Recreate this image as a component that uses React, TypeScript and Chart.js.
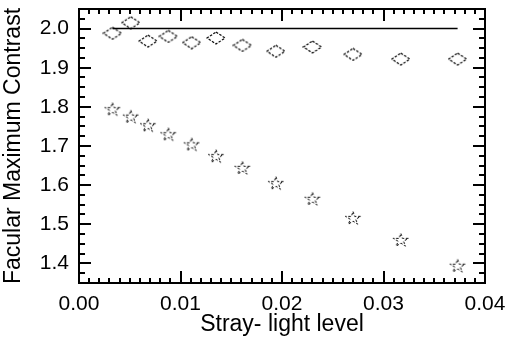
import React, { useEffect, useRef } from "react";
import { Chart, registerables } from "chart.js";

Chart.register(...registerables);

// ---- data ----
const strayLight = [0.0033, 0.0051, 0.0068, 0.0088, 0.0111, 0.0135, 0.0161, 0.0194, 0.0230, 0.0270, 0.0317, 0.0373];
const contrastDiamond = [1.988, 2.015, 1.968, 1.980, 1.964, 1.976, 1.957, 1.942, 1.953, 1.934, 1.922, 1.922];
const contrastStar = [1.794, 1.775, 1.753, 1.730, 1.704, 1.674, 1.644, 1.605, 1.565, 1.516, 1.460, 1.394];
const refLineX = [0.0033, 0.0373];
const refLineY = [2.0, 2.0];
const xTickValues = [0, 0.01, 0.02, 0.03, 0.04];
const yTickValues = [1.4, 1.5, 1.6, 1.7, 1.8, 1.9, 2.0];
const xRange = [0, 0.04];
const yRange = [1.35, 2.05];
const xMajorStep = 0.01;
const xMinorStep = 0.001;
const yMajorStep = 0.1;
const yMinorStep = 0.025;
const xTitle = "Stray- light level";
const yTitle = "Facular Maximum Contrast";

const FONT = "'Liberation Sans', Arial, Helvetica, sans-serif";

function makeDiamond(): HTMLCanvasElement {
  const c = document.createElement("canvas");
  c.width = 20;
  c.height = 14;
  const g = c.getContext("2d")!;
  g.strokeStyle = "#000";
  g.lineWidth = 1.2;
  g.setLineDash([2.5, 1.5]);
  g.beginPath();
  g.moveTo(10, 1);
  g.lineTo(19, 7);
  g.lineTo(10, 13);
  g.lineTo(1, 7);
  g.closePath();
  g.stroke();
  return c;
}

function makeStar(): HTMLCanvasElement {
  const c = document.createElement("canvas");
  c.width = 18;
  c.height = 16;
  const g = c.getContext("2d")!;
  g.strokeStyle = "#000";
  g.lineWidth = 1;
  g.setLineDash([2.5, 1.8]);
  const cx = 9, cy = 8.5;
  const rxo = 8, ryo = 7, rxi = 2.8, ryi = 2.6;
  g.beginPath();
  for (let i = 0; i < 10; i++) {
    const a = -Math.PI / 2 + (i * Math.PI) / 5;
    const rx = i % 2 === 0 ? rxo : rxi;
    const ry = i % 2 === 0 ? ryo : ryi;
    const px = cx + rx * Math.cos(a);
    const py = cy + ry * Math.sin(a);
    if (i === 0) g.moveTo(px, py);
    else g.lineTo(px, py);
  }
  g.closePath();
  g.stroke();
  return c;
}

const framePlugin = {
  id: "idlFrame",
  afterDraw(chart: any) {
    const { ctx, chartArea, scales } = chart;
    const { left, right, top, bottom } = chartArea;
    const x = scales.x;
    const y = scales.y;
    ctx.save();
    ctx.strokeStyle = "#000";
    ctx.lineWidth = 2;
    ctx.strokeRect(left, top, right - left, bottom - top);
    ctx.beginPath();
    const nx = Math.round((xRange[1] - xRange[0]) / xMinorStep);
    const perX = Math.round(xMajorStep / xMinorStep);
    for (let i = 0; i <= nx; i++) {
      const v = xRange[0] + i * xMinorStep;
      const px = Math.round(x.getPixelForValue(v));
      const len = i % perX === 0 ? 12 : 5;
      ctx.moveTo(px, bottom);
      ctx.lineTo(px, bottom - len);
      ctx.moveTo(px, top);
      ctx.lineTo(px, top + len);
    }
    const ny = Math.round((yRange[1] - yRange[0]) / yMinorStep);
    for (let i = 0; i <= ny; i++) {
      const v = yRange[0] + i * yMinorStep;
      const r = v / yMajorStep;
      const major = Math.abs(r - Math.round(r)) < 1e-6;
      const py = Math.round(y.getPixelForValue(v));
      const len = major ? 12 : 6;
      ctx.moveTo(left, py);
      ctx.lineTo(left + len, py);
      ctx.moveTo(right, py);
      ctx.lineTo(right - len, py);
    }
    ctx.stroke();
    ctx.restore();
  },
};

export default function App() {
  const ref = useRef<HTMLCanvasElement | null>(null);

  useEffect(() => {
    if (!ref.current) return;
    const diamond = makeDiamond();
    const star = makeStar();
    const chart = new Chart(ref.current, {
      type: "scatter",
      data: {
        datasets: [
          {
            type: "line",
            data: refLineX.map((v, i) => ({ x: v, y: refLineY[i] })),
            borderColor: "#000",
            borderWidth: 1.5,
            pointRadius: 0,
            showLine: true,
            fill: false,
          } as any,
          {
            data: strayLight.map((v, i) => ({ x: v, y: contrastDiamond[i] })),
            pointStyle: diamond as any,
            pointRadius: 8,
            showLine: false,
          },
          {
            data: strayLight.map((v, i) => ({ x: v, y: contrastStar[i] })),
            pointStyle: star as any,
            pointRadius: 8,
            showLine: false,
          },
        ],
      },
      options: {
        responsive: false,
        animation: false,
        layout: { padding: { left: 0, right: 21, top: 1, bottom: 0 } },
        plugins: { legend: { display: false }, tooltip: { enabled: false } },
        scales: {
          x: {
            type: "linear",
            min: xRange[0],
            max: xRange[1],
            grid: { display: false, drawTicks: false },
            border: { display: false },
            afterBuildTicks: (s: any) => {
              s.ticks = xTickValues.map((v) => ({ value: v }));
            },
            afterFit: (s: any) => {
              s.height = 57;
              s.paddingLeft = 0;
              s.paddingRight = 0;
            },
            ticks: {
              padding: 9,
              color: "#000",
              font: { family: FONT, size: 21 },
              maxRotation: 0,
              autoSkip: false,
              callback: (v: any) => Number(v).toFixed(2),
            },
            title: {
              display: true,
              text: xTitle,
              color: "#000",
              font: { family: FONT, size: 23 },
              padding: { top: 0, bottom: 2 },
            },
          },
          y: {
            type: "linear",
            min: yRange[0],
            max: yRange[1],
            grid: { display: false, drawTicks: false },
            border: { display: false },
            afterBuildTicks: (s: any) => {
              s.ticks = yTickValues.map((v) => ({ value: v }));
            },
            afterFit: (s: any) => {
              s.width = 79;
              s.paddingTop = 0;
              s.paddingBottom = 0;
            },
            ticks: {
              padding: 10,
              color: "#000",
              font: { family: FONT, size: 21 },
              autoSkip: false,
              callback: (v: any) => Number(v).toFixed(1),
            },
            title: {
              display: true,
              text: yTitle,
              color: "#000",
              font: { family: FONT, size: 23 },
              padding: { top: 0, bottom: 0 },
            },
          },
        },
      },
      plugins: [framePlugin],
    });
    return () => chart.destroy();
  }, []);

  return (
    <div style={{ position: "fixed", left: 0, top: 0, width: 506, height: 340, background: "#fff" }}>
      <canvas ref={ref} width={506} height={340} style={{ width: 506, height: 340, display: "block" }} />
    </div>
  );
}
